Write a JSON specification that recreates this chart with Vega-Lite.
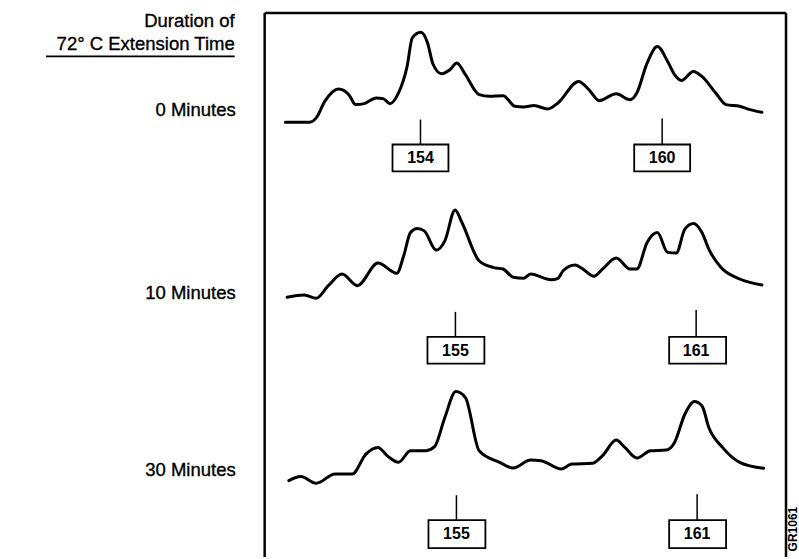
{
  "$schema": "https://vega.github.io/schema/vega-lite/v6.json",
  "width": 799,
  "height": 559,
  "autosize": {"type": "fit", "contains": "padding"},
  "padding": 0,
  "background": "white",
  "config": {"view": {"stroke": null}, "text": {"font": "Liberation Sans"}},
  "datasets": {
    "traces": [
      {"trace": "0 Minutes", "x": 285.7, "y": 122.7}, {"trace": "0 Minutes", "x": 309.8, "y": 122.7}, {"trace": "0 Minutes", "x": 316.6, "y": 118.3}, {"trace": "0 Minutes", "x": 325.2, "y": 101.7}, {"trace": "0 Minutes", "x": 339, "y": 89.3}, {"trace": "0 Minutes", "x": 349.3, "y": 95}, {"trace": "0 Minutes", "x": 356.1, "y": 105}, {"trace": "0 Minutes", "x": 364.7, "y": 104}, {"trace": "0 Minutes", "x": 376.7, "y": 98.3}, {"trace": "0 Minutes", "x": 383.6, "y": 99}, {"trace": "0 Minutes", "x": 390.5, "y": 104}, {"trace": "0 Minutes", "x": 399, "y": 93.3}, {"trace": "0 Minutes", "x": 407.6, "y": 66.7}, {"trace": "0 Minutes", "x": 412.8, "y": 38}, {"trace": "0 Minutes", "x": 421.3, "y": 32.3}, {"trace": "0 Minutes", "x": 428.2, "y": 43.3}, {"trace": "0 Minutes", "x": 433.4, "y": 64}, {"trace": "0 Minutes", "x": 442, "y": 74}, {"trace": "0 Minutes", "x": 450.5, "y": 70}, {"trace": "0 Minutes", "x": 457.4, "y": 63.3}, {"trace": "0 Minutes", "x": 466, "y": 75}, {"trace": "0 Minutes", "x": 479.7, "y": 95}, {"trace": "0 Minutes", "x": 490, "y": 96.7}, {"trace": "0 Minutes", "x": 503.7, "y": 96}, {"trace": "0 Minutes", "x": 515.7, "y": 106.7}, {"trace": "0 Minutes", "x": 524.3, "y": 107.3}, {"trace": "0 Minutes", "x": 534.6, "y": 106}, {"trace": "0 Minutes", "x": 548.4, "y": 109.3}, {"trace": "0 Minutes", "x": 558.7, "y": 103.3}, {"trace": "0 Minutes", "x": 579.3, "y": 81.7}, {"trace": "0 Minutes", "x": 589.6, "y": 90}, {"trace": "0 Minutes", "x": 599.9, "y": 101}, {"trace": "0 Minutes", "x": 617, "y": 94}, {"trace": "0 Minutes", "x": 630.8, "y": 100}, {"trace": "0 Minutes", "x": 637.6, "y": 93.3}, {"trace": "0 Minutes", "x": 647.9, "y": 63.3}, {"trace": "0 Minutes", "x": 658.2, "y": 46.7}, {"trace": "0 Minutes", "x": 668.5, "y": 61.7}, {"trace": "0 Minutes", "x": 675.4, "y": 75}, {"trace": "0 Minutes", "x": 682.2, "y": 80.7}, {"trace": "0 Minutes", "x": 694.3, "y": 71.7}, {"trace": "0 Minutes", "x": 702.8, "y": 76.7}, {"trace": "0 Minutes", "x": 716.6, "y": 93.3}, {"trace": "0 Minutes", "x": 726.9, "y": 105}, {"trace": "0 Minutes", "x": 740.6, "y": 106.7}, {"trace": "0 Minutes", "x": 750.9, "y": 110}, {"trace": "0 Minutes", "x": 762.9, "y": 112.7},
      {"trace": "10 Minutes", "x": 287.5, "y": 298.3}, {"trace": "10 Minutes", "x": 304.6, "y": 296}, {"trace": "10 Minutes", "x": 316.6, "y": 299.3}, {"trace": "10 Minutes", "x": 328.7, "y": 286.7}, {"trace": "10 Minutes", "x": 342.4, "y": 275}, {"trace": "10 Minutes", "x": 357.8, "y": 286.7}, {"trace": "10 Minutes", "x": 378.4, "y": 264}, {"trace": "10 Minutes", "x": 397.3, "y": 274.3}, {"trace": "10 Minutes", "x": 404.2, "y": 256.7}, {"trace": "10 Minutes", "x": 411, "y": 233.3}, {"trace": "10 Minutes", "x": 417.9, "y": 229.3}, {"trace": "10 Minutes", "x": 424.8, "y": 231.7}, {"trace": "10 Minutes", "x": 436.8, "y": 251}, {"trace": "10 Minutes", "x": 445.4, "y": 241.7}, {"trace": "10 Minutes", "x": 455.7, "y": 210.7}, {"trace": "10 Minutes", "x": 462.5, "y": 223.3}, {"trace": "10 Minutes", "x": 479.7, "y": 261.7}, {"trace": "10 Minutes", "x": 493.4, "y": 268.3}, {"trace": "10 Minutes", "x": 503.7, "y": 270}, {"trace": "10 Minutes", "x": 514, "y": 278.3}, {"trace": "10 Minutes", "x": 524.3, "y": 279.3}, {"trace": "10 Minutes", "x": 531.2, "y": 275}, {"trace": "10 Minutes", "x": 551.8, "y": 280.7}, {"trace": "10 Minutes", "x": 558.7, "y": 279.3}, {"trace": "10 Minutes", "x": 563.8, "y": 271.7}, {"trace": "10 Minutes", "x": 575.8, "y": 266}, {"trace": "10 Minutes", "x": 582.7, "y": 269.3}, {"trace": "10 Minutes", "x": 594.7, "y": 277.3}, {"trace": "10 Minutes", "x": 603.3, "y": 270}, {"trace": "10 Minutes", "x": 617, "y": 259}, {"trace": "10 Minutes", "x": 630.8, "y": 270}, {"trace": "10 Minutes", "x": 637.6, "y": 270}, {"trace": "10 Minutes", "x": 647.9, "y": 243.3}, {"trace": "10 Minutes", "x": 658.2, "y": 233.3}, {"trace": "10 Minutes", "x": 668.5, "y": 253.3}, {"trace": "10 Minutes", "x": 677.1, "y": 254}, {"trace": "10 Minutes", "x": 685.7, "y": 230}, {"trace": "10 Minutes", "x": 694.3, "y": 224.3}, {"trace": "10 Minutes", "x": 702.8, "y": 233.3}, {"trace": "10 Minutes", "x": 709.7, "y": 250}, {"trace": "10 Minutes", "x": 721.7, "y": 268.3}, {"trace": "10 Minutes", "x": 740.6, "y": 280}, {"trace": "10 Minutes", "x": 762.9, "y": 286},
      {"trace": "30 Minutes", "x": 289.2, "y": 482.3}, {"trace": "30 Minutes", "x": 301.2, "y": 478.3}, {"trace": "30 Minutes", "x": 316.6, "y": 485}, {"trace": "30 Minutes", "x": 335.5, "y": 475.7}, {"trace": "30 Minutes", "x": 352.7, "y": 475.7}, {"trace": "30 Minutes", "x": 366.4, "y": 455.7}, {"trace": "30 Minutes", "x": 378.4, "y": 449}, {"trace": "30 Minutes", "x": 388.7, "y": 458.3}, {"trace": "30 Minutes", "x": 399, "y": 464}, {"trace": "30 Minutes", "x": 411, "y": 452.3}, {"trace": "30 Minutes", "x": 426.5, "y": 452.3}, {"trace": "30 Minutes", "x": 435.1, "y": 448.3}, {"trace": "30 Minutes", "x": 445.4, "y": 419}, {"trace": "30 Minutes", "x": 456.4, "y": 393}, {"trace": "30 Minutes", "x": 466, "y": 399}, {"trace": "30 Minutes", "x": 479.7, "y": 452.3}, {"trace": "30 Minutes", "x": 500.3, "y": 464}, {"trace": "30 Minutes", "x": 514, "y": 469.7}, {"trace": "30 Minutes", "x": 531.2, "y": 461.7}, {"trace": "30 Minutes", "x": 541.5, "y": 462.3}, {"trace": "30 Minutes", "x": 562.1, "y": 470.7}, {"trace": "30 Minutes", "x": 572.4, "y": 465.7}, {"trace": "30 Minutes", "x": 593, "y": 465}, {"trace": "30 Minutes", "x": 603.3, "y": 457.3}, {"trace": "30 Minutes", "x": 617, "y": 441.7}, {"trace": "30 Minutes", "x": 625.6, "y": 449}, {"trace": "30 Minutes", "x": 637.6, "y": 459.7}, {"trace": "30 Minutes", "x": 651.4, "y": 452.3}, {"trace": "30 Minutes", "x": 666.8, "y": 451.7}, {"trace": "30 Minutes", "x": 675.4, "y": 444}, {"trace": "30 Minutes", "x": 685.7, "y": 415.7}, {"trace": "30 Minutes", "x": 695.3, "y": 403}, {"trace": "30 Minutes", "x": 702.8, "y": 407.3}, {"trace": "30 Minutes", "x": 709.7, "y": 429}, {"trace": "30 Minutes", "x": 723.4, "y": 449}, {"trace": "30 Minutes", "x": 740.6, "y": 464}, {"trace": "30 Minutes", "x": 764.6, "y": 470}
    ],
    "peaks": [
      {"label": "154", "x": 421, "stemTop": 120, "boxTop": 145, "boxBottom": 172, "boxLeft": 393, "boxRight": 449},
      {"label": "160", "x": 663, "stemTop": 119, "boxTop": 145, "boxBottom": 172, "boxLeft": 635, "boxRight": 691},
      {"label": "155", "x": 456, "stemTop": 313, "boxTop": 338, "boxBottom": 365, "boxLeft": 428, "boxRight": 485},
      {"label": "161", "x": 697, "stemTop": 311, "boxTop": 338, "boxBottom": 365, "boxLeft": 670, "boxRight": 727},
      {"label": "155", "x": 457, "stemTop": 497, "boxTop": 522, "boxBottom": 550, "boxLeft": 429, "boxRight": 486},
      {"label": "161", "x": 698, "stemTop": 496, "boxTop": 522, "boxBottom": 550, "boxLeft": 670, "boxRight": 727}
    ],
    "frame": [
      {"side": "left", "x": 265, "y": 13, "x2": 265, "y2": 559},
      {"side": "top", "x": 265, "y": 13, "x2": 787, "y2": 13},
      {"side": "right", "x": 787, "y": 13, "x2": 787, "y2": 559}
    ],
    "header": [
      {"text": "Duration of", "x": 235, "y": 21},
      {"text": "72°  C Extension Time", "x": 235, "y": 44}
    ],
    "labels": [
      {"text": "0 Minutes", "x": 236, "y": 110},
      {"text": "10 Minutes", "x": 236, "y": 294},
      {"text": "30 Minutes", "x": 236, "y": 472}
    ],
    "underline": [{"x": 46, "y": 56.5, "x2": 235, "y2": 56.5}],
    "code": [{"text": "GR1061", "x": 794, "y": 531}]
  },
  "layer": [
    {
      "data": {"name": "frame"},
      "mark": {"type": "rule", "stroke": "black", "strokeWidth": 2.5},
      "encoding": {
        "x": {"field": "x", "type": "quantitative", "scale": {"domain": [0, 799], "nice": false, "zero": false}, "axis": null},
        "y": {"field": "y", "type": "quantitative", "scale": {"domain": [0, 559], "nice": false, "zero": false, "reverse": true}, "axis": null},
        "x2": {"field": "x2"},
        "y2": {"field": "y2"}
      }
    },
    {
      "data": {"name": "underline"},
      "mark": {"type": "rule", "stroke": "black", "strokeWidth": 1.8},
      "encoding": {
        "x": {"field": "x", "type": "quantitative", "axis": null},
        "y": {"field": "y", "type": "quantitative", "axis": null},
        "x2": {"field": "x2"},
        "y2": {"field": "y2"}
      }
    },
    {
      "data": {"name": "traces"},
      "mark": {"type": "line", "stroke": "black", "strokeWidth": 3, "interpolate": "monotone", "strokeJoin": "round", "strokeCap": "round"},
      "encoding": {
        "x": {"field": "x", "type": "quantitative", "axis": null},
        "y": {"field": "y", "type": "quantitative", "axis": null},
        "detail": {"field": "trace", "type": "nominal"}
      }
    },
    {
      "data": {"name": "peaks"},
      "mark": {"type": "rule", "stroke": "black", "strokeWidth": 1.5},
      "encoding": {
        "x": {"field": "x", "type": "quantitative", "axis": null},
        "y": {"field": "stemTop", "type": "quantitative", "axis": null},
        "y2": {"field": "boxTop"}
      }
    },
    {
      "data": {"name": "peaks"},
      "mark": {"type": "rect", "fill": "white", "stroke": "black", "strokeWidth": 1.8},
      "encoding": {
        "x": {"field": "boxLeft", "type": "quantitative", "axis": null},
        "x2": {"field": "boxRight"},
        "y": {"field": "boxTop", "type": "quantitative", "axis": null},
        "y2": {"field": "boxBottom"}
      }
    },
    {
      "data": {"name": "peaks"},
      "mark": {"type": "text", "fontSize": 16, "fontWeight": "bold", "baseline": "middle", "align": "center", "dy": 14, "color": "black"},
      "encoding": {
        "x": {"field": "x", "type": "quantitative", "axis": null},
        "y": {"field": "boxTop", "type": "quantitative", "axis": null},
        "text": {"field": "label"}
      }
    },
    {
      "data": {"name": "header"},
      "mark": {"type": "text", "fontSize": 18.5, "align": "right", "baseline": "middle", "color": "black", "stroke": "black", "strokeWidth": 0.35},
      "encoding": {
        "x": {"field": "x", "type": "quantitative", "axis": null},
        "y": {"field": "y", "type": "quantitative", "axis": null},
        "text": {"field": "text"}
      }
    },
    {
      "data": {"name": "labels"},
      "mark": {"type": "text", "fontSize": 18.5, "align": "right", "baseline": "middle", "color": "black", "stroke": "black", "strokeWidth": 0.35},
      "encoding": {
        "x": {"field": "x", "type": "quantitative", "axis": null},
        "y": {"field": "y", "type": "quantitative", "axis": null},
        "text": {"field": "text"}
      }
    },
    {
      "data": {"name": "code"},
      "mark": {"type": "text", "fontSize": 12, "fontWeight": "bold", "angle": 270, "align": "center", "baseline": "middle", "color": "black"},
      "encoding": {
        "x": {"field": "x", "type": "quantitative", "axis": null},
        "y": {"field": "y", "type": "quantitative", "axis": null},
        "text": {"field": "text"}
      }
    }
  ]
}
